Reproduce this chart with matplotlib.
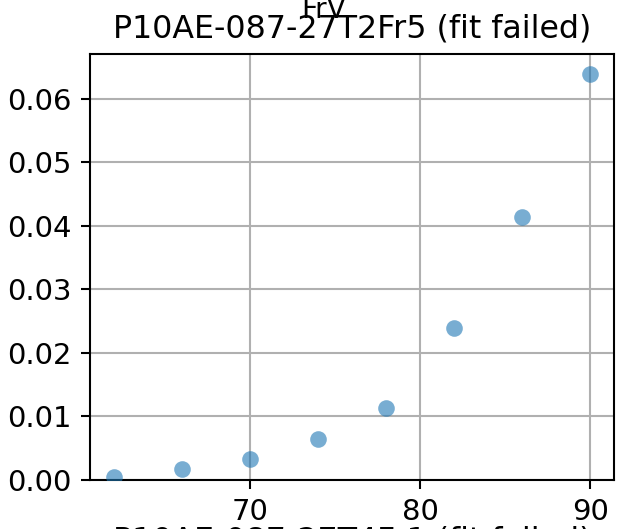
import matplotlib
matplotlib.use("Agg")
import matplotlib.pyplot as plt

temps = [62, 66, 70, 74, 78, 82, 86, 90]
values = [0.0005, 0.0017, 0.0033, 0.0065, 0.0114, 0.0239, 0.0414, 0.0639]

title_main = "P10AE-087-27T2Fr5 (fit failed)"
title_top = "FrV"
title_next = "P10AE-087-27T4F-1 (fit failed)"

dpi = 187
fig = plt.figure(figsize=(617 / dpi, 529 / dpi), dpi=dpi)
ax = fig.add_axes([90 / 617, 49 / 529, 524 / 617, 426 / 529])

ax.scatter(temps, values, color="C0", alpha=0.6, s=41, linewidths=0, zorder=3)
ax.set_ylim(bottom=0)
ax.set_xticks([70, 80, 90])
ax.tick_params(labelsize=11.2)
ax.grid(True)

# overlapping titles, as in the original multi-panel figure
fig.text(352 / 617, (529 - 37) / 529, title_main, ha="center", va="baseline", fontsize=12.2)
fig.text(324 / 617, (529 - 18) / 529, title_top, ha="center", va="baseline", fontsize=10.8)
fig.text(352 / 617, (529 - 549) / 529, title_next, ha="center", va="baseline", fontsize=12.2)

fig.savefig("out.png", dpi=dpi)
